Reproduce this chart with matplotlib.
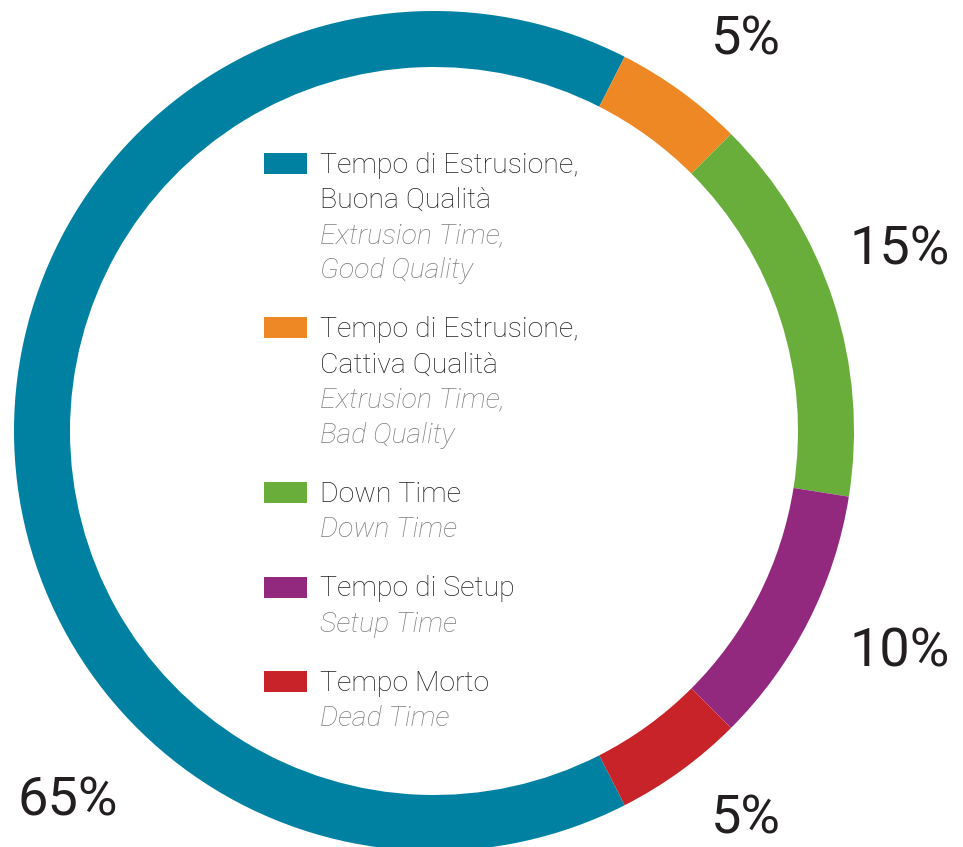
import matplotlib.pyplot as plt
from matplotlib.patches import Rectangle

plt.rcParams["font.family"] = ["Roboto", "DejaVu Sans"]

shares = [65, 5, 15, 10, 5]
colors = ["#0081a1", "#ee8825", "#69ae3b", "#92297f", "#c9232a"]
names_it = [["Tempo di Estrusione,", "Buona Qualità"],
            ["Tempo di Estrusione,", "Cattiva Qualità"],
            ["Down Time"],
            ["Tempo di Setup"],
            ["Tempo Morto"]]
names_en = [["Extrusion Time,", "Good Quality"],
            ["Extrusion Time,", "Bad Quality"],
            ["Down Time"],
            ["Setup Time"],
            ["Dead Time"]]
# where each percentage sits, in pixels from the top-left corner
label_pos = [(68, 801), (746, 40), (900, 250), (900, 652), (746, 819)]

W, H = 963, 847
fig = plt.figure(figsize=(W / 100, H / 100), dpi=100)
ax = fig.add_axes([0, 0, 1, 1])
ax.axis("off")

ax.pie(shares, colors=colors, startangle=-63, counterclock=False,
       center=(434, H - 431), radius=420,
       wedgeprops=dict(width=56, linewidth=0))
ax.set_xlim(0, W)
ax.set_ylim(0, H)
ax.set_aspect("equal")

for v, (x, y) in zip(shares, label_pos):
    ax.text(x, H - y, f"{v}%", ha="center", va="center", fontsize=39,
            color="#231f20")

# legend drawn by hand: swatch + italian name + english name in grey italic
line_h = 35.2
gap = 24
y = 163
for col, it, en in zip(colors, names_it, names_en):
    ax.add_patch(Rectangle((264, H - y - 10.5), 43, 21, color=col, lw=0))
    for i, line in enumerate(it + en):
        italic = i >= len(it)
        ax.text(320, H - y - i * line_h - 2, line, ha="left", va="center",
                fontsize=20.5, fontweight="light",
                style="italic" if italic else "normal",
                color="#7d7d7d" if italic else "#1e1e1e")
    y += len(it + en) * line_h + gap

fig.savefig("out.png", dpi=100, facecolor="white")
